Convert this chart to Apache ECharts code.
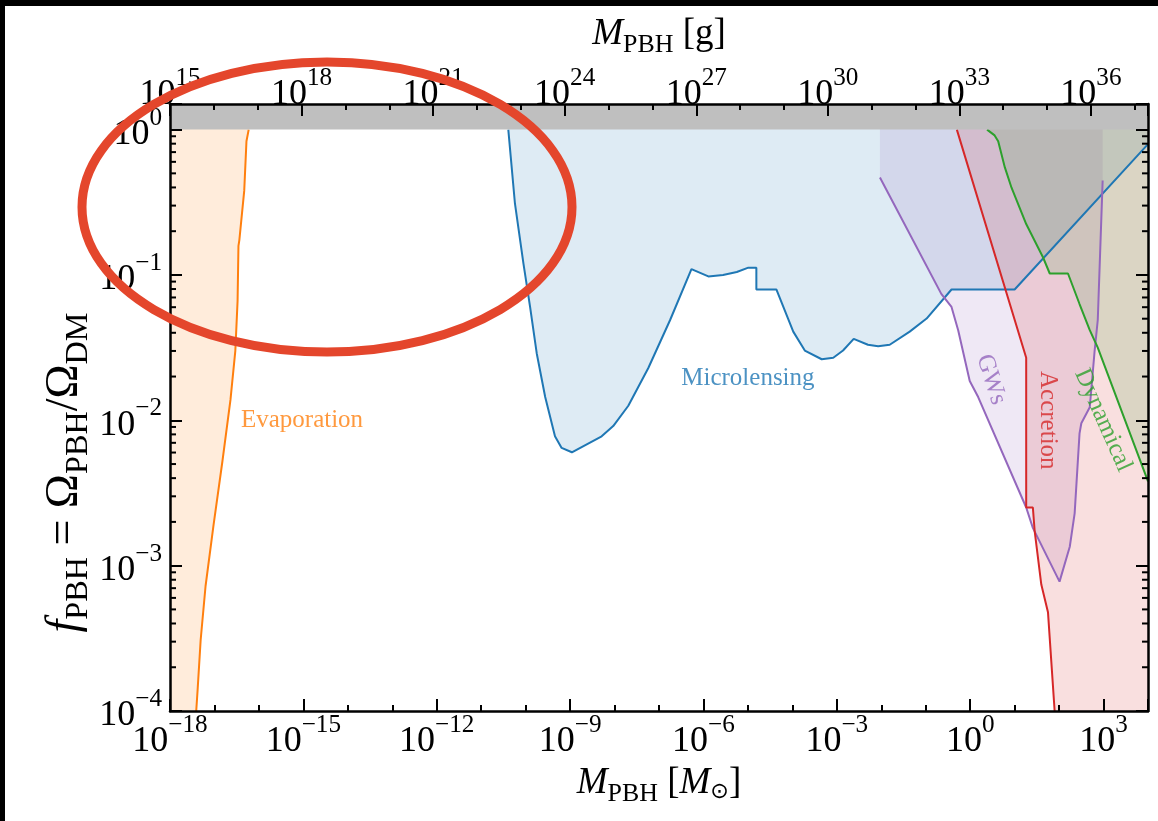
<!DOCTYPE html>
<html><head><meta charset="utf-8">
<script src="https://cdn.jsdelivr.net/npm/echarts@6/dist/echarts.min.js"></script>
<style>html,body{margin:0;padding:0;background:#fff}#c{width:1158px;height:821px}</style>
</head><body><div id="c"></div>
<script>
// All values are log10: x = log10(M_PBH / M_sun), y = log10(f_PBH)
const evaporation = [[-17.41,-4.0],[-17.38,-3.86],[-17.31,-3.51],[-17.20,-3.14],[-17.02,-2.72],[-16.82,-2.28],[-16.64,-1.86],[-16.53,-1.52],[-16.48,-1.18],[-16.46,-0.80],[-16.44,-0.76],[-16.33,-0.42],[-16.28,-0.08],[-16.23,0.0]];
const microlensing = [[-10.39,0.0],[-10.24,-0.51],[-10.05,-0.92],[-9.90,-1.22],[-9.75,-1.54],[-9.56,-1.84],[-9.34,-2.11],[-9.19,-2.19],[-8.96,-2.22],[-8.29,-2.11],[-8.03,-2.04],[-7.69,-1.90],[-7.24,-1.64],[-6.75,-1.31],[-6.27,-0.96],[-5.89,-1.01],[-5.56,-1.00],[-5.25,-0.98],[-4.99,-0.95],[-4.81,-0.95],[-4.81,-1.10],[-4.36,-1.10],[-3.98,-1.39],[-3.72,-1.52],[-3.34,-1.58],[-3.08,-1.57],[-2.86,-1.52],[-2.62,-1.44],[-2.30,-1.48],[-2.07,-1.49],[-1.81,-1.48],[-1.36,-1.39],[-0.98,-1.30],[-0.42,-1.10],[1.00,-1.10],[4.00,-0.10]];
const gws = [[-2.03,-0.33],[-0.65,-1.13],[-0.42,-1.22],[-0.27,-1.38],[-0.01,-1.73],[0.18,-1.84],[1.26,-2.60],[1.41,-2.74],[2.01,-3.11],[2.24,-2.87],[2.35,-2.64],[2.46,-2.09],[2.50,-2.02],[2.69,-1.91],[2.80,-1.52],[2.87,-1.31],[2.98,-0.35]];
const accretion = [[-0.30,0.0],[1.26,-1.57],[1.26,-2.60],[1.41,-2.60],[1.45,-2.76],[1.60,-3.13],[1.75,-3.32],[1.90,-4.0]];
const dynamical = [[0.38,0.0],[0.55,-0.04],[0.63,-0.08],[0.78,-0.26],[0.93,-0.40],[1.26,-0.65],[1.64,-0.88],[1.79,-0.99],[2.20,-0.99],[2.46,-1.20],[2.69,-1.38],[2.87,-1.50],[4.00,-2.42]];
const unityBand = [[-18,0],[4,0]];
const xMin = -18, xMax = 4;              // log10 M / M_sun
const gMin = 15, gMax = Math.log10(2e37); // log10 M / g
const yMin = -4, yMax = Math.log10(1.5);
const yMinorTicks = [];
for (let n = -4; n < 0; n++) for (let k = 2; k <= 9; k++) yMinorTicks.push(n + Math.log10(k));
const regionNames = ['Evaporation','Microlensing','GWs','Accretion','Dynamical'];
</script>
<script>
const SERIF = "'Liberation Serif','DejaVu Serif',serif";
const C = {orange:'#ff7f0e', blue:'#1f77b4', purple:'#9467bd', red:'#d62728', green:'#2ca02c'};
const F = 36;
const tickRich = {
  b:{fontFamily:SERIF, fontSize:F, lineHeight:F, padding:[0.3*F,0,0,0], verticalAlign:'top', color:'#000'},
  s:{fontFamily:SERIF, fontSize:0.7*F, lineHeight:0.7*F, verticalAlign:'top', color:'#000'}
};
function expLabel(v, step){
  const r = Math.round(v);
  if (Math.abs(v - r) > 1e-6 || r % step !== 0) return '';
  return '{b|10}{s|' + (r < 0 ? '\u2212' : '') + Math.abs(r) + '}';
}
function titleRich(T){
  return {
    i:{fontFamily:SERIF, fontStyle:'italic', fontSize:T, lineHeight:T, verticalAlign:'top', color:'#000'},
    n:{fontFamily:SERIF, fontSize:T, lineHeight:T, verticalAlign:'top', color:'#000'},
    sub:{fontFamily:SERIF, fontSize:0.7*T, lineHeight:0.7*T, padding:[0.45*T,0,0,0], verticalAlign:'top', color:'#000'},
    subs:{fontFamily:"'DejaVu Sans',sans-serif", fontSize:0.6*T, lineHeight:0.7*T, padding:[0.45*T,0,0,0], verticalAlign:'top', color:'#000'}
  };
}
const axisLine = {show:true, onZero:false, lineStyle:{color:'#000', width:2.5}};
function xAx(pos, min, max, interval, major, extra){
  return Object.assign({
    type:'value', position:pos, min:min, max:max, interval:interval, z:10,
    axisLine: major ? axisLine : {show:false, onZero:false},
    axisTick:{show:true, inside:true, length: major ? 12 : 6, lineStyle:{color:'#000', width:2}},
    splitLine:{show:false},
    axisLabel: major ? {show:true, margin:2, rich:tickRich, formatter:v=>expLabel(v,3)} : {show:false}
  }, extra||{});
}
const chart = echarts.init(document.getElementById('c'), null, {renderer:'canvas'});
function fill(data, color){
  return {type:'line', data:data, symbol:'none', silent:true, z:1,
    lineStyle:{width:0, opacity:0}, areaStyle:{color:color, opacity:1, origin:'end'}};
}
function stroke(data, color){
  return {type:'line', data:data, symbol:'none', silent:true, z:3,
    lineStyle:{width:2, color:color}};
}
const labelPos = [[-15.03,-2.0,0,C.orange],[-5.0,-1.71,0,C.blue],[0.47,-1.72,-72,C.purple],[1.74,-2.0,-90,C.red],[2.99,-2.0,-66,C.green]];
const labelSeries = regionNames.map((nm,i)=>({
  type:'scatter', silent:true, z:6, symbolSize:1, itemStyle:{color:'transparent'},
  data:[[labelPos[i][0], labelPos[i][1]]],
  label:{show:true, position:'inside', formatter:nm, rotate:labelPos[i][2], color:labelPos[i][3],
    fontFamily:SERIF, fontSize:25}
}));
const option = {
  animation:false,
  backgroundColor:'#fff',
  grid:{left:170, right:10, top:104, bottom:110, containLabel:false, outerBoundsMode:'none'},
  xAxis:[
    xAx('bottom', xMin, xMax, 3, true, {name:'{i|M}{sub|PBH}{n| [}{i|M}{subs|\u2299}{n|]}', nameLocation:'middle', nameGap:48,
      nameTextStyle:{rich:titleRich(37)}}),
    xAx('bottom', xMin, xMax, 1, false),
    xAx('top', gMin, gMax, 3, true, {name:'{i|M}{sub|PBH}{n| [g]}', nameLocation:'middle', nameGap:51,
      nameTextStyle:{rich:titleRich(37)}}),
    xAx('top', gMin, gMax, 1, false)
  ],
  yAxis:[
    {type:'value', position:'left', min:yMin, max:yMax, interval:1, z:10, axisLine:axisLine,
     axisTick:{show:true, inside:true, length:12, lineStyle:{color:'#000', width:2}}, splitLine:{show:false},
     axisLabel:{show:true, margin:8, padding:[0,0,12,0], rich:tickRich, formatter:v=>expLabel(v,1)},
     name:'{i|f}{sub|PBH}{n| = \u03A9}{sub|PBH}{n|/\u03A9}{sub|DM}', nameLocation:'middle', nameRotate:90, nameGap:82,
     nameMoveOverlap:false,
     nameTextStyle:{rich:titleRich(46), padding:[0,130,0,0]}},
    {type:'value', position:'right', min:yMin, max:yMax, interval:1, z:10, axisLine:axisLine,
     axisTick:{show:true, inside:true, length:12, lineStyle:{color:'#000', width:2}}, splitLine:{show:false},
     axisLabel:{show:false}}
  ],
  series:[
    fill([[xMin,yMin]].concat(evaporation), 'rgba(255,127,14,0.15)'),
    fill(microlensing, 'rgba(31,119,180,0.15)'),
    fill(gws, 'rgba(148,103,189,0.15)'),
    fill(accretion.concat([[xMax,yMin]]), 'rgba(214,39,40,0.15)'),
    fill(dynamical, 'rgba(44,160,44,0.15)'),
    stroke(evaporation, C.orange),
    stroke(microlensing, C.blue),
    stroke(gws, C.purple),
    stroke(accretion, C.red),
    stroke(dynamical, C.green),
    {type:'line', data:unityBand, symbol:'none', silent:true, z:5, lineStyle:{width:0, opacity:0},
     areaStyle:{color:'#bfbfbf', opacity:1, origin:'end'}},
    {type:'custom', silent:true, z:11, data:yMinorTicks.map(v=>[xMin, v]),
     renderItem:function(params, api){
       const v = api.value(1);
       const pL = api.coord([xMin, v]), pR = api.coord([xMax, v]);
       return {type:'group', children:[
         {type:'line', shape:{x1:pL[0], y1:pL[1], x2:pL[0]+6, y2:pL[1]}, style:{stroke:'#000', lineWidth:2}},
         {type:'line', shape:{x1:pR[0]-6, y1:pR[1], x2:pR[0], y2:pR[1]}, style:{stroke:'#000', lineWidth:2}}
       ]};
     }}
  ].concat(labelSeries),
  graphic:[
    {type:'rect', z:100, shape:{x:0, y:0, width:1158, height:6}, style:{fill:'#000'}},
    {type:'rect', z:100, shape:{x:0, y:0, width:5, height:821}, style:{fill:'#000'}},
    {type:'ellipse', z:100, shape:{cx:327, cy:207, rx:245, ry:145}, style:{fill:'none', stroke:'#e4462c', lineWidth:9}}
  ]
};
chart.setOption(option);
</script>
</body></html>
